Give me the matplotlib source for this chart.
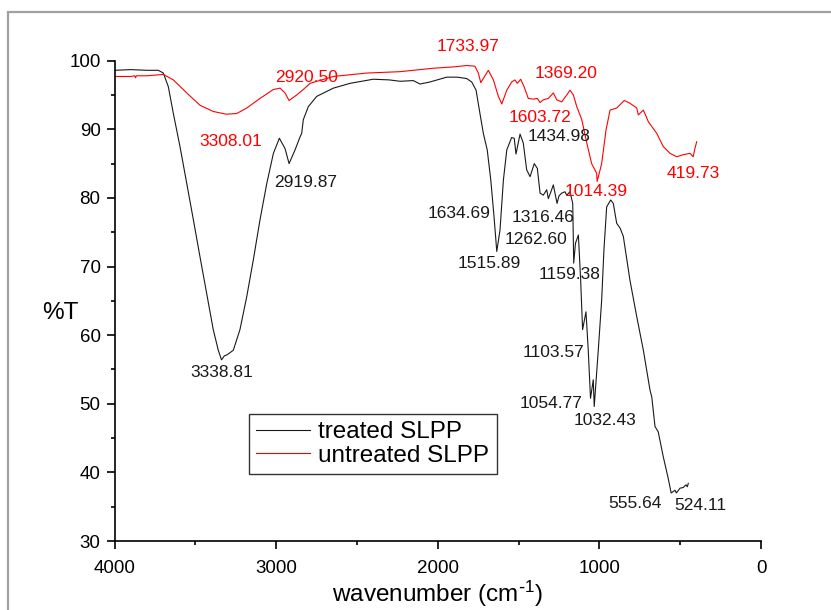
import numpy as np
import matplotlib
matplotlib.use("Agg")
import matplotlib.pyplot as plt
from matplotlib.patches import Rectangle
from matplotlib.ticker import MultipleLocator

plt.rcParams['font.family'] = ['Liberation Sans', 'DejaVu Sans']
plt.rcParams['mathtext.default'] = 'regular'

# treated SLPP (black)
treated_wn = [4000, 3900, 3800, 3729, 3698, 3667, 3636, 3595, 3553, 3512, 3471, 3430,
              3389, 3358, 3338, 3320, 3306, 3265, 3224, 3182, 3141, 3100, 3058, 3017,
              2980, 2945, 2920, 2883, 2852, 2842, 2832, 2801, 2749, 2646, 2543, 2399,
              2300, 2233, 2151, 2110, 2048, 1945, 1880, 1821, 1790, 1763, 1739, 1718,
              1694, 1672, 1652, 1635, 1615, 1594, 1573, 1543, 1527, 1516, 1491, 1471,
              1450, 1429, 1403, 1384, 1367, 1347, 1326, 1316, 1300, 1285, 1262, 1250,
              1233, 1213, 1202, 1182, 1165, 1159, 1148, 1130, 1116, 1104, 1083, 1069,
              1055, 1038, 1032, 1007, 986, 972, 955, 930, 914, 893, 872, 852, 811,
              769, 728, 687, 676, 656, 636, 605, 574, 556, 532, 524, 501, 481, 464,
              456, 450]
treated_T = [98.6, 98.7, 98.6, 98.6, 98.2, 96.2, 92.3, 87.5, 82.1, 76.8, 71.4, 66.1,
             60.8, 57.8, 56.4, 57.0, 57.1, 57.8, 60.8, 65.6, 71.0, 76.8, 82.1, 86.5,
             88.7, 87.2, 85.0, 87.0, 88.9, 89.4, 91.4, 93.3, 94.8, 96.0, 96.7, 97.3,
             97.2, 97.0, 97.1, 96.6, 96.9, 97.6, 97.6, 97.4, 96.9, 95.7, 92.3, 89.4,
             87.0, 82.6, 77.3, 72.2, 75.3, 82.6, 87.0, 88.8, 88.7, 86.4, 89.3, 88.0,
             84.1, 83.1, 85.0, 84.3, 80.7, 80.4, 81.2, 79.9, 80.9, 81.9, 79.2, 80.3,
             80.7, 80.9, 80.4, 80.9, 79.2, 70.5, 73.4, 74.6, 68.0, 60.8, 63.4, 57.8,
             50.8, 53.5, 49.6, 57.8, 65.1, 72.4, 78.7, 79.7, 79.2, 76.3, 75.6, 74.4,
             68.0, 62.7, 57.8, 52.0, 51.0, 46.7, 45.9, 42.3, 39.1, 37.0, 37.4, 37.0,
             37.7, 37.8, 38.2, 37.9, 38.4]

# untreated SLPP (red)
untreated_wn = [4000, 3900, 3875, 3870, 3865, 3800, 3698, 3636, 3553, 3471, 3389, 3308,
                3244, 3182, 3100, 3017, 2976, 2945, 2920, 2873, 2832, 2790, 2646, 2440,
                2234, 2028, 1900, 1821, 1770, 1749, 1734, 1687, 1656, 1625, 1604, 1573,
                1543, 1522, 1508, 1487, 1466, 1440, 1409, 1384, 1367, 1347, 1316, 1285,
                1264, 1233, 1202, 1182, 1161, 1140, 1109, 1078, 1048, 1017, 1014, 986,
                959, 934, 893, 846, 811, 769, 759, 728, 697, 645, 605, 563, 522, 481,
                439, 420, 409, 398]
untreated_T = [97.7, 97.7, 97.8, 97.5, 97.8, 97.8, 98.0, 97.2, 95.3, 93.5, 92.6, 92.2,
               92.3, 93.1, 94.5, 95.8, 96.0, 95.3, 94.2, 95.0, 95.8, 96.7, 97.7, 98.2,
               98.4, 98.9, 99.1, 99.3, 99.2, 98.2, 96.8, 98.6, 97.2, 94.8, 93.7, 95.7,
               96.9, 97.2, 96.7, 97.3, 96.2, 94.5, 94.4, 94.5, 93.9, 94.3, 94.5, 95.3,
               94.3, 94.0, 95.0, 95.7, 95.0, 93.3, 91.4, 88.0, 85.0, 83.6, 82.4, 85.0,
               89.9, 92.8, 93.1, 94.2, 93.8, 93.1, 92.1, 92.8, 91.1, 89.4, 87.5, 86.5,
               86.0, 86.3, 86.5, 86.0, 87.2, 88.2]

# peak labels: text, x, y (label placement)
red_labels = [("1733.97", 1813, 102.0), ("2920.50", 2809, 97.6), ("3308.01", 3278, 88.2),
              ("1369.20", 1206, 98.2), ("1603.72", 1367, 91.7), ("1014.39", 1021, 80.9),
              ("419.73", 420, 83.5)]
black_labels = [("2919.87", 2815, 82.2), ("3338.81", 3335, 54.5), ("1434.98", 1249, 88.9),
                ("1634.69", 1868, 77.8), ("1316.46", 1348, 77.2), ("1262.60", 1392, 73.9),
                ("1515.89", 1683, 70.5), ("1159.38", 1182, 68.8), ("1103.57", 1287, 57.5),
                ("1054.77", 1300, 50.0), ("1032.43", 965, 47.6), ("555.64", 780, 35.5),
                ("524.11", 378, 35.2)]

fig = plt.figure(figsize=(8.31, 6.10), dpi=100)
ax = fig.add_axes([0.1378, 0.1131, 0.778, 0.7874])

ax.plot(treated_wn, treated_T, color='#1a1a1a', lw=0.8, label='treated SLPP')
ax.plot(untreated_wn, untreated_T, color='#ff0000', lw=0.8, label='untreated SLPP')

for txt, x, y in red_labels:
    ax.text(x, y, txt, color='#ff0000', fontsize=12.5, ha='center', va='center', clip_on=False)
for txt, x, y in black_labels:
    ax.text(x, y, txt, color='#1a1a1a', fontsize=12.5, ha='center', va='center', clip_on=False)

ax.set_xlim(4000, 0)
ax.set_ylim(30, 100)
ax.xaxis.set_major_locator(MultipleLocator(1000))
ax.xaxis.set_minor_locator(MultipleLocator(500))
ax.yaxis.set_major_locator(MultipleLocator(10))
ax.yaxis.set_minor_locator(MultipleLocator(5))
ax.tick_params(which='major', direction='out', length=6, width=1.2, labelsize=13.5, pad=4)
ax.tick_params(which='minor', direction='out', length=3, width=1.2)
ax.tick_params(axis='x', which='major', pad=8)
for s in ['top', 'right']:
    ax.spines[s].set_visible(False)
for s in ['left', 'bottom']:
    ax.spines[s].set_linewidth(1.2)

ax.set_xlabel(r'wavenumber (cm$^{\text{-}1}$)', fontsize=17.5, labelpad=1)
ax.set_ylabel('%T', fontsize=17.5, rotation=0, ha='center', va='center')
ax.yaxis.set_label_coords(-0.084, 0.475)

leg = ax.legend(loc='upper left', bbox_to_anchor=(0.208, 0.2644), borderaxespad=0,
                fontsize=17.5, fancybox=False, framealpha=1, edgecolor='#333333',
                borderpad=0.3, labelspacing=0.05, handlelength=2.2, handletextpad=0.35)
leg.get_frame().set_linewidth(1.0)

fig.patches.append(Rectangle((0.0096, -0.05), 1.1, 0.9803 + 0.05, transform=fig.transFigure,
                             fill=False, edgecolor='#a0a0a0', lw=1.6, clip_on=False))

fig.savefig('out.png', dpi=100)
